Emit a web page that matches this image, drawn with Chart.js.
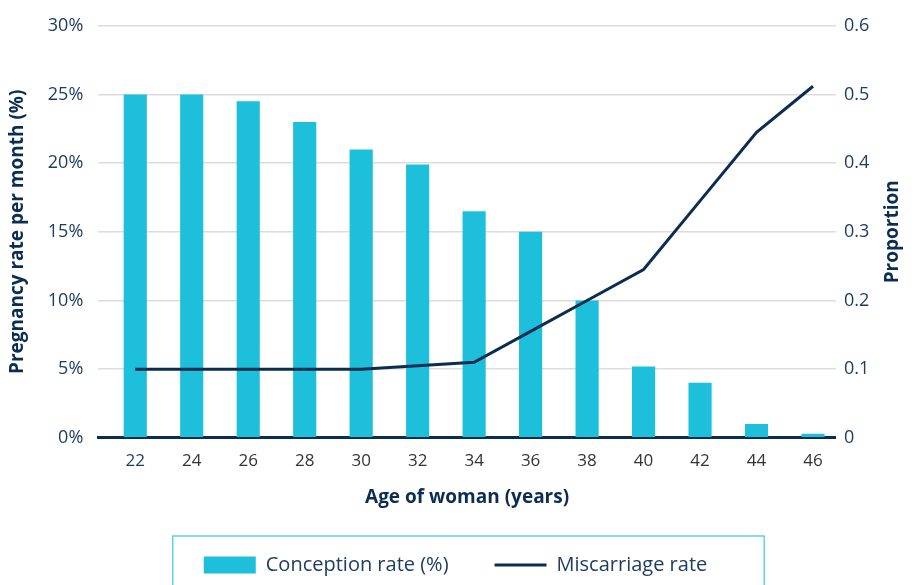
<!DOCTYPE html>
<html>
<head>
<meta charset="utf-8">
<script src="https://cdn.jsdelivr.net/npm/chart.js@4.4.0/dist/chart.umd.min.js"></script>
<style>
  html, body { margin: 0; padding: 0; background: #fff; }
  #wrap { width: 917px; height: 585px; }
</style>
</head>
<body>
<div id="wrap"><canvas id="ageChart"></canvas></div>
<script>
// data
const ages = [22, 24, 26, 28, 30, 32, 34, 36, 38, 40, 42, 44, 46];
const conceptionRate = [25, 25, 24.5, 23, 21, 19.9, 16.5, 15, 10, 5.2, 4, 1, 0.3];
const miscarriageRate = [0.1, 0.1, 0.1, 0.1, 0.1, 0.105, 0.11, 0.155, 0.2, 0.245, 0.345, 0.445, 0.512];
const leftTicks = [0, 5, 10, 15, 20, 25, 30];
const rightTicks = [0, 0.1, 0.2, 0.3, 0.4, 0.5, 0.6];

const navy = '#0b2d52';
const cyan = '#1ebfda';
const tickBlue = '#1f3d63';
const FONT = "'Open Sans', 'Noto Sans', sans-serif";

// thin cyan frame round the legend
const legendFrame = {
    id: 'legendFrame',
    afterDraw(chart) {
        const lg = chart.legend;
        if (!lg || !lg.legendHitBoxes.length) return;
        const hb = lg.legendHitBoxes;
        const last = hb[hb.length - 1];
        const c = chart.ctx;
        c.save();
        c.strokeStyle = '#62d2e8';
        c.lineWidth = 1.5;
        const x1 = hb[0].left - 31;
        const x2 = last.left + last.width + 57;
        const y1 = hb[0].top - 19;
        c.strokeRect(x1, y1, x2 - x1, chart.height - y1 + 20);
        c.restore();
    }
};

// right axis title reads bottom-to-top like the left one
const rightTitle = {
    id: 'rightTitle',
    afterDraw(chart) {
        const s = chart.scales.y1;
        const a = chart.chartArea;
        const c = chart.ctx;
        c.save();
        c.translate(s.right - 12, (a.top + a.bottom) / 2);
        c.rotate(-Math.PI / 2);
        c.fillStyle = navy;
        c.font = "bold 19px " + FONT;
        c.textAlign = 'center';
        c.textBaseline = 'middle';
        c.fillText('Proportion', 0, 0);
        c.restore();
    }
};

const ctx = document.getElementById('ageChart').getContext('2d');

new Chart(ctx, {
    type: 'bar',
    data: {
        labels: ages,
        datasets: [
            {
                label: 'Conception rate (%)',
                data: conceptionRate,
                backgroundColor: cyan,
                borderWidth: 0,
                categoryPercentage: 1,
                barPercentage: 0.41,
                yAxisID: 'y',
                order: 2
            },
            {
                type: 'line',
                label: 'Miscarriage rate',
                data: miscarriageRate,
                borderColor: navy,
                backgroundColor: navy,
                borderWidth: 3,
                pointRadius: 0,
                tension: 0,
                yAxisID: 'y1',
                order: 1
            }
        ]
    },
    options: {
        responsive: true,
        maintainAspectRatio: false,
        animation: false,
        layout: { padding: { top: 12, left: 6, right: 12, bottom: 0 } },
        plugins: {
            tooltip: { enabled: false },
            legend: {
                position: 'bottom',
                labels: {
                    usePointStyle: true,
                    pointStyleWidth: 52,
                    boxHeight: 17,
                    padding: 46,
                    color: tickBlue,
                    font: { family: FONT, size: 20 },
                    sort: (a, b) => a.datasetIndex - b.datasetIndex,
                    generateLabels(chart) {
                        return chart.data.datasets.map((ds, i) => ({
                            text: ds.label,
                            datasetIndex: i,
                            fillStyle: i === 0 ? cyan : navy,
                            strokeStyle: i === 0 ? cyan : navy,
                            lineWidth: i === 0 ? 0 : 3,
                            pointStyle: i === 0 ? 'rect' : 'line',
                            fontColor: tickBlue,
                            hidden: false
                        }));
                    }
                }
            }
        },
        scales: {
            x: {
                type: 'linear',
                min: 20.69,
                max: 46.81,
                offset: false,
                z: 1,
                afterBuildTicks: (axis) => { axis.ticks = ages.map(v => ({ value: v })); },
                grid: { display: false, drawTicks: false },
                border: { display: true, color: navy, width: 3 },
                ticks: {
                    autoSkip: false,
                    maxRotation: 0,
                    padding: 13,
                    color: (c) => c.index === 0 ? tickBlue : '#333333',
                    font: { family: FONT, size: 17 }
                },
                title: {
                    display: true,
                    text: 'Age of woman (years)',
                    color: navy,
                    font: { family: FONT, size: 19, weight: 'bold' },
                    padding: { top: 2, bottom: 0 }
                }
            },
            y: {
                position: 'left',
                min: 0,
                max: 30,
                afterBuildTicks: (axis) => { axis.ticks = leftTicks.map(v => ({ value: v })); },
                grid: {
                    color: (c) => c.tick && c.tick.value === 0 ? 'rgba(0,0,0,0)' : '#dcdcdc',
                    lineWidth: 1.5,
                    drawTicks: false
                },
                border: { display: false },
                ticks: {
                    padding: 15,
                    color: tickBlue,
                    font: { family: FONT, size: 18 },
                    callback: (v) => v + '%'
                },
                title: {
                    display: true,
                    text: 'Pregnancy rate per month (%)',
                    color: navy,
                    font: { family: FONT, size: 19, weight: 'bold' },
                    padding: { top: 0, bottom: 4 }
                }
            },
            y1: {
                position: 'right',
                min: 0,
                max: 0.6,
                afterBuildTicks: (axis) => { axis.ticks = rightTicks.map(v => ({ value: v })); },
                grid: { display: false, drawTicks: false },
                border: { display: false },
                ticks: {
                    padding: 8,
                    color: tickBlue,
                    font: { family: FONT, size: 18 },
                    callback: (v) => v === 0 ? '0' : v.toFixed(1)
                },
                title: {
                    // space kept here, text drawn by rightTitle
                    display: true,
                    text: 'Proportion',
                    color: 'rgba(0,0,0,0)',
                    font: { family: FONT, size: 19, weight: 'bold' },
                    padding: { top: 3, bottom: 2 }
                }
            }
        }
    },
    plugins: [legendFrame, rightTitle]
});
</script>
</body>
</html>
